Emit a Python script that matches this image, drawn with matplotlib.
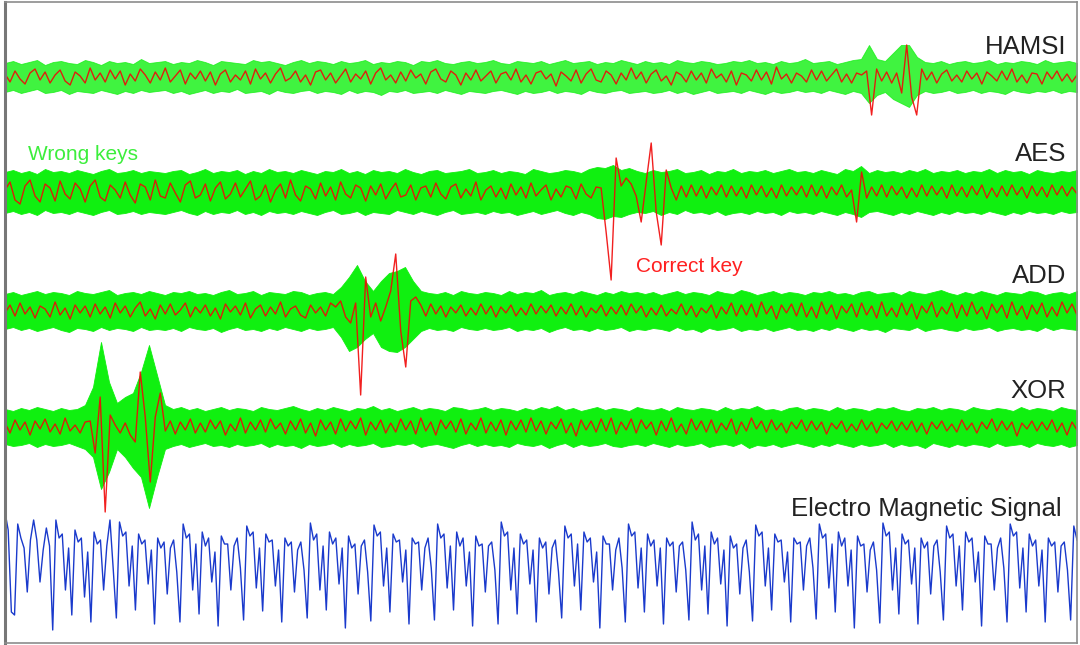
import numpy as np
import matplotlib
matplotlib.use('Agg')
import matplotlib.pyplot as plt

# ---------------- data ----------------
# red = correct key trace, up/dn = upper / lower edge of the green band
# of wrong key traces (all in px of amplitude, positive = up)

hamsi_red = [
    3, -5, 6, -2, -7, 4, 8, -3, 5, -6, 2, 7, -4, -8, 5, 1, -6, 9, -3, 4,
    -5, 7, -2, 6, -8, 3, -4, 8, 2, -6, 5, -3, 9, -5, 1, 7, -7, 4, -2, 6,
    -4, 5, -8, 3, 7, -5, 2, -3, 6, -7, 8, -2, 4, -6, 3, 9, -4, -1, 6, -5,
    2, -8, 5, 7, -3, 4, -6, 1, 8, -5, 3, -2, 6, -7, 4, 9, -3, 2, -6, 5,
    -4, 7, -1, 3, -7, 5, 8, -2, -5, 6, 2, -8, 4, -3, 7, -4, 1, 6, -6, 3,
    5, -3, 8, -5, 2, -7, 4, 6, -2, 3, -9, 5, 1, -4, 7, -6, 3, 8, -3, -5,
    6, 2, -7, 4, -3, 9, -2, 5, -6, 3, 7, -4, 1, -8, 5, 2, -5, 6, -3, 4,
    -6, 8, -1, 3, -5, 6, -8, 4, 2, -4, 7, -3, 5, -7, 10, -2, 3, -6, 4, 1,
    -5, 7, -3, 6, -4, 2, 8, -5, 3, -6, 4, 2, 6, -38, 8, -4, 5, -6, 4, -16,
    32, -20, -38, 8, -3, 5, -6, 3, 7, -4, 2, -5, 6, -2, 4, -7, 5, 1, -4, 6,
    -3, 8, -5, 2, -6, 4, 3, -7, 5, -2, 6, -4, 3, -5, 2]
hamsi_up = [
    14, 16, 13, 15, 17, 12, 15, 16, 14, 13, 17, 15, 12, 16, 14, 15, 13, 18, 14, 15,
    16, 13, 15, 14, 17, 15, 12, 16, 15, 14, 13, 17, 15, 16, 14, 12, 15, 17, 14, 16,
    15, 13, 16, 14, 15, 17, 13, 15, 14, 16, 15, 12, 16, 15, 17, 14, 13, 15, 16, 14,
    15, 17, 14, 13, 16, 15, 14, 16, 13, 15, 17, 14, 15, 16, 13, 15, 14, 17, 15, 13,
    16, 14, 15, 13, 17, 15, 14, 16, 15, 13, 14, 16, 15, 17, 14, 15, 13, 16, 14, 15,
    18, 14, 15, 16, 13, 15, 17, 18, 32, 18, 16, 24, 32, 32, 20, 15, 14, 16, 13, 15,
    16, 14, 15, 17, 13, 15, 14, 16, 15, 13, 17, 14, 15, 16, 14]
hamsi_dn = [
    15, 13, 16, 14, 12, 16, 15, 13, 17, 14, 15, 16, 13, 15, 17, 14, 16, 13, 15, 14,
    13, 16, 14, 17, 15, 13, 16, 14, 15, 12, 16, 15, 14, 17, 13, 15, 16, 14, 13, 16,
    14, 15, 17, 13, 16, 14, 15, 18, 14, 15, 13, 16, 15, 14, 16, 13, 15, 17, 14, 15,
    16, 14, 13, 15, 17, 14, 16, 15, 13, 16, 14, 15, 17, 13, 15, 16, 14, 13, 16, 15,
    14, 16, 15, 13, 16, 14, 17, 15, 13, 16, 15, 14, 16, 13, 15, 17, 14, 16, 15, 13,
    15, 14, 16, 13, 15, 17, 14, 16, 26, 18, 15, 22, 26, 30, 18, 14, 16, 15, 13, 16,
    15, 13, 16, 14, 15, 17, 13, 15, 16, 14, 15, 13, 16, 14, 15]

aes_red = [
    2, 10, -8, -12, 6, 12, -4, -10, 8, 4, -9, 11, -2, -7, 9, 3, -10, 6, 12, -5,
    -9, 7, 2, -6, 10, -3, -11, 8, 5, -8, 12, -4, -6, 9, -1, -10, 7, 11, -6, -3,
    8, -9, 4, 10, -7, -2, 9, -5, 3, 11, -8, -4, 7, -10, 2, 8, -6, 12, -3, -9,
    6, 3, -7, 9, -4, 5, -8, 10, -2, -6, 7, 4, -9, 6, -3, 8, -7, 2, 9, -5,
    -3, 7, -8, 4, 6, -5, 9, -2, -7, 5, 8, -6, 3, -4, 10, -8, 2, 6, -5, 4,
    -7, 8, -3, 5, -6, 9, -4, 2, 7, -8, 3, -5, 6, 4, -7, 8, -2, -6, 5, 4,
    -40, -88, 34, 6, 14, 8, -4, -30, 10, 49, -20, -53, 22, 4, -8, 6, -5, 7, -4, 6,
    -6, 5, -3, 7, -5, 6, -4, 5, -6, 7, -3, 6, -5, 4, -6, 7, -4, 5, -3, 6,
    -5, 7, -4, 6, -6, 5, -3, 7, -5, 2, -30, 20, -6, 5, -4, 7, -5, 6, -3, 5,
    -6, 4, -5, 7, -4, 6, -3, 5, -6, 7, -4, 5, -5, 6, -3, 7, -6, 4, -5, 6,
    -4, 7, -3, 5, -6, 6, -4, 5, -5, 7, -3, 6, -4, 5, -2]
aes_up = [
    20, 22, 19, 21, 18, 23, 20, 21, 19, 22, 20, 18, 21, 23, 19, 20, 22, 19, 21, 20,
    19, 21, 22, 18, 20, 23, 19, 21, 20, 22, 18, 21, 19, 23, 20, 21, 19, 22, 20, 18,
    21, 20, 23, 19, 21, 18, 22, 20, 21, 19, 23, 20, 18, 21, 22, 19, 20, 21, 23, 19,
    20, 22, 19, 21, 20, 18, 23, 21, 19, 20, 22, 21, 19, 23, 25, 24, 27, 22, 24, 21,
    19, 22, 20, 21, 23, 19, 20, 22, 18, 21, 20, 23, 19, 21, 20, 22, 19, 21, 23, 20,
    21, 19, 22, 20, 18, 23, 21, 26, 19, 22, 20, 21, 19, 22, 20, 23, 19, 21, 20, 22,
    19, 21, 20, 23, 19, 22, 20, 21, 18, 22, 20, 19, 21, 20, 22]
aes_dn = [
    21, 19, 22, 20, 23, 18, 21, 20, 22, 19, 21, 23, 20, 18, 22, 21, 19, 22, 20, 21,
    22, 20, 18, 21, 23, 19, 22, 20, 21, 18, 22, 20, 23, 19, 21, 20, 22, 19, 21, 23,
    20, 18, 22, 21, 19, 23, 20, 21, 22, 18, 20, 22, 19, 21, 23, 20, 18, 22, 21, 20,
    22, 19, 21, 20, 23, 21, 19, 22, 20, 18, 21, 23, 20, 22, 26, 27, 24, 25, 22, 20,
    21, 19, 23, 20, 22, 18, 21, 20, 22, 19, 23, 21, 20, 22, 19, 21, 20, 23, 19, 21,
    20, 22, 19, 21, 23, 20, 22, 25, 20, 19, 21, 23, 20, 22, 19, 21, 23, 20, 22, 19,
    21, 20, 22, 19, 21, 23, 20, 22, 19, 21, 20, 22, 19, 21, 20]

add_red = [
    -2, 6, -5, 8, -3, 4, -7, 5, 2, -6, 9, -4, 3, -8, 6, -2, 5, -6, 7, -3,
    4, -7, 8, -2, 5, -6, 3, 9, -5, 2, -8, 6, -3, 7, -4, 1, 8, -6, 4, -2,
    6, -5, 3, -8, 7, -1, 5, -4, 8, -7, 2, 6, -5, 4, -3, 9, -6, 2, 5, -4,
    -7, 6, -2, 4, -5, 8, 4, 10, -6, -12, 8, -84, 34, -6, 8, -10, 4, 20, 57, -20,
    -56, 10, 14, 6, -5, 7, -3, 5, -6, 4, -2, 6, -5, 3, -4, 7, -3, 5, -6, 4,
    -2, 6, -5, 3, -4, 7, -3, 5, -2, 6, -5, 4, -3, 7, -4, 5, -6, 3, -2, 6,
    -5, 4, -3, 6, -4, 7, -2, 5, -6, 3, -4, 6, -5, 2, -3, 7, -4, 5, -6, 3,
    -2, 6, -7, 4, -3, 8, -5, 6, -4, 7, -6, 9, -3, 5, -8, 6, -2, 7, -5, 8,
    -6, 4, -7, 9, -3, 6, -8, 5, -2, 7, -6, 8, -4, 5, -7, 9, -5, 3, -6, 8,
    -4, 7, -8, 5, -2, 9, -6, 4, -3, 8, -7, 6, -5, 9, -3, 4, -8, 7, -2, 6,
    -7, 9, -4, 5, -8, 6, -3, 8, -6, 4, -5, 9, -2, 7, -4]
add_up = [
    17, 19, 16, 18, 20, 17, 19, 18, 16, 20, 18, 17, 19, 21, 16, 18, 19, 17, 20, 18,
    16, 19, 18, 20, 17, 18, 16, 19, 21, 17, 18, 20, 16, 19, 18, 17, 20, 19, 16, 18,
    19, 17, 24, 34, 46, 30, 20, 30, 38, 40, 44, 30, 20, 18, 17, 19, 16, 20, 18, 17,
    19, 18, 16, 20, 17, 19, 18, 21, 16, 18, 19, 17, 20, 18, 16, 19, 17, 20, 18, 19,
    17, 19, 16, 18, 20, 17, 19, 18, 16, 20, 18, 17, 21, 19, 16, 18, 20, 17, 19, 18,
    16, 19, 18, 20, 17, 18, 16, 19, 20, 17, 18, 19, 16, 20, 18, 17, 19, 21, 18, 16,
    19, 17, 20, 18, 16, 19, 18, 17, 20, 19, 16, 18, 19, 17, 20]
add_dn = [
    18, 16, 19, 17, 20, 18, 16, 19, 21, 17, 18, 20, 16, 19, 17, 18, 20, 16, 19, 18,
    19, 17, 20, 16, 18, 19, 17, 21, 18, 16, 19, 18, 20, 17, 19, 16, 18, 20, 17, 19,
    18, 16, 26, 40, 36, 28, 22, 36, 40, 41, 36, 28, 20, 17, 19, 18, 20, 16, 18, 19,
    17, 19, 18, 16, 20, 18, 19, 17, 21, 18, 16, 19, 18, 20, 17, 19, 18, 16, 20, 18,
    19, 17, 18, 20, 16, 19, 18, 21, 17, 19, 18, 16, 20, 18, 19, 17, 20, 18, 16, 19,
    18, 20, 17, 19, 16, 18, 20, 17, 19, 18, 21, 17, 18, 19, 16, 20, 18, 17, 19, 20,
    17, 19, 18, 16, 20, 18, 17, 19, 18, 20, 16, 19, 17, 18, 19]

xor_red = [
    4, -6, 7, -3, 5, -8, 6, -2, 8, -5, 3, -7, 9, -4, 2, -6, 5, 6, -26, 30,
    -85, 12, 2, -6, 4, -8, -15, 55, 10, -55, 10, 34, -4, 6, -7, 5, -3, 8, -6, 4,
    -5, 7, -2, 6, -8, 3, -4, 9, -6, 5, -3, 7, -5, 8, -2, 4, -7, 6, -3, 8,
    -6, 4, -9, 7, -3, 5, -7, 8, -4, 6, -2, 9, -8, 5, -3, 7, -6, 4, -5, 8,
    -3, 6, -7, 9, -4, 5, -8, 7, -2, 6, -5, 8, -7, 4, -3, 9, -6, 5, -4, 7,
    -8, 6, -3, 7, -5, 9, -4, 6, -7, 5, -2, 8, -6, 4, -9, 7, -3, 6, -5, 8,
    -4, 9, -7, 5, -3, 8, -6, 7, -2, 5, -8, 6, -4, 9, -5, 3, -7, 8, -3, 6,
    -5, 7, -6, 4, -3, 8, -7, 5, -4, 9, -2, 6, -5, 7, -3, 4, -6, 5, -2, 7,
    -4, 6, -3, 5, -7, 4, -2, 6, -5, 3, -4, 7, -3, 5, -6, 4, -2, 6, -4, 5,
    -3, 6, -5, 4, -7, 5, -2, 6, -4, 3, -5, 7, -3, 4, -6, 5, -2, 8, -4, 6,
    -3, 5, -9, 4, -2, 6, -4, 5, -3, 7, -5, 4, -8, 5, -3]
xor_up = [
    18, 16, 19, 17, 20, 18, 16, 19, 17, 18, 22, 40, 85, 45, 24, 30, 34, 55, 82, 52,
    22, 18, 20, 17, 19, 16, 18, 20, 17, 19, 18, 16, 20, 18, 17, 19, 21, 18, 16, 19,
    17, 20, 18, 16, 19, 18, 21, 17, 19, 16, 18, 20, 17, 19, 18, 16, 20, 19, 17, 18,
    20, 17, 19, 18, 16, 19, 17, 20, 18, 21, 17, 19, 16, 18, 20, 17, 19, 18, 16, 20,
    18, 17, 19, 16, 20, 18, 17, 19, 18, 16, 20, 17, 19, 18, 21, 17, 18, 16, 19, 20,
    17, 19, 18, 16, 20, 17, 19, 18, 16, 19, 18, 20, 17, 16, 19, 18, 20, 17, 19, 18,
    16, 20, 18, 17, 19, 18, 16, 20, 17, 19, 18, 16, 20, 18, 17]
xor_dn = [
    17, 19, 18, 16, 20, 17, 19, 18, 16, 19, 22, 30, 62, 45, 22, 30, 41, 50, 81, 50,
    22, 19, 17, 20, 18, 16, 19, 18, 20, 17, 19, 18, 16, 20, 17, 19, 18, 21, 17, 19,
    18, 16, 20, 17, 19, 18, 16, 20, 19, 17, 18, 16, 20, 18, 17, 19, 21, 18, 16, 19,
    17, 19, 18, 20, 16, 18, 19, 17, 21, 18, 16, 20, 17, 19, 18, 16, 19, 20, 18, 17,
    19, 16, 18, 20, 17, 19, 18, 16, 20, 18, 17, 19, 16, 21, 18, 19, 17, 20, 18, 16,
    18, 20, 17, 19, 16, 18, 20, 17, 19, 18, 16, 20, 17, 19, 18, 21, 16, 18, 20, 17,
    19, 17, 18, 20, 16, 19, 18, 17, 20, 16, 18, 19, 17, 20, 18]

# electro magnetic signal, one row per repeating pattern
em_signal = [
    48, 30, -52, -55, 36, 22, 12, -32, 20, 40, 20, -22, 10, 32, 14,
    -70, 40, 22, 26, -30, 12, -55, 30, 18, 22, -37, 8, -62, 28, 16, 20, -30, 14, 40, -8,
    -58, 38, 24, 28, -26, 14, -50, 26, 16, 20, -24, 10, -64, 22, 12, 18, -34, 12, 20, -12,
    -62, 36, 22, 26, -30, 16, -54, 28, 14, 22, -22, 8, -66, 24, 16, 16, -30, 14, 22, -8,
    -60, 34, 24, 28, -28, 12, -51, 26, 18, 20, -26, 10, -62, 22, 14, 18, -32, 10, 18, -10,
    -58, 37, 20, 26, -30, 14, -50, 28, 16, 22, -24, 12, -68, 24, 12, 16, -34, 14, 20, -12,
    -61, 35, 24, 28, -26, 12, -52, 26, 18, 20, -22, 10, -64, 22, 16, 18, -30, 12, 22, -8,
    -60, 36, 22, 26, -28, 14, -50, 28, 14, 22, -26, 8, -66, 24, 14, 16, -32, 14, 18, -10,
    -64, 38, 24, 28, -30, 12, -54, 26, 16, 20, -24, 10, -62, 22, 12, 18, -34, 12, 20, -12,
    -58, 34, 22, 26, -26, 16, -50, 28, 18, 22, -22, 8, -68, 24, 16, 16, -30, 10, 22, -8,
    -62, 36, 24, 28, -28, 12, -52, 26, 14, 20, -26, 12, -64, 22, 14, 18, -32, 14, 18, -10,
    -60, 38, 20, 26, -30, 14, -54, 28, 16, 22, -24, 10, -66, 24, 12, 16, -34, 12, 20, -12,
    -61, 35, 24, 28, -26, 12, -50, 26, 18, 20, -22, 8, -62, 22, 16, 18, -30, 14, 22, -8,
    -59, 36, 22, 26, -28, 16, -52, 28, 14, 22, -26, 10, -68, 24, 14, 16, -32, 10, 18, -10,
    -63, 37, 24, 28, -30, 12, -54, 26, 16, 20, -24, 12, -64, 22, 12, 18, -34, 14, 20, -12,
    -60, 34, 22, 26, -26, 14, -50, 28, 18, 22, -22, 8, -66, 24, 16, 16, -30, 12, 22, -8,
    -62, 36, 24, 28, -28, 12, -52, 26, 14, 20, -26, 10, -62, 22, 14, 18, -32, 14, 18, -10,
    -60, 34, 20]

labels = ['HAMSI', 'AES', 'ADD', 'XOR']

# ---------------- layout ----------------
W, H = 1080, 645
row_center = [77, 192, 311, 427]      # px from top
label_base = [54, 161, 283, 398]      # text baselines, px from top
em_center = 560
GREEN = '#10f010'
RED = '#f00808'
BLUE = '#1a3acc'

fig = plt.figure(figsize=(W / 100, H / 100), dpi=100)
ax = fig.add_axes([5 / W, 2 / H, 1072 / W, 641 / H])
ax.set_xlim(0, 1)
ax.set_ylim(643, 2)
ax.set_xticks([])
ax.set_yticks([])
for s in ax.spines.values():
    s.set_color('#8c8c8c')
    s.set_linewidth(1.2)
ax.spines['left'].set_linewidth(2.2)
ax.spines['left'].set_color('#777777')

traces = [(hamsi_red, hamsi_up, hamsi_dn),
          (aes_red, aes_up, aes_dn),
          (add_red, add_up, add_dn),
          (xor_red, xor_up, xor_dn)]

for k, (red, up, dn) in enumerate(traces):
    c = row_center[k]
    xe = np.linspace(0, 1, len(up))
    alpha = 0.8 if k == 0 else 1.0
    ax.fill_between(xe, c - np.array(up), c + np.array(dn), color=GREEN,
                    lw=0.6, edgecolor=GREEN, alpha=alpha)
    xr = np.linspace(0, 1, len(red))
    ax.plot(xr, c - np.array(red), color=RED, lw=1.0, alpha=0.9)

xb = np.linspace(0, 1, len(em_signal))
ax.plot(xb, em_center - np.array(em_signal), color=BLUE, lw=1.0)

# ---------------- texts ----------------
font = ['Liberation Sans', 'DejaVu Sans']
for k, name in enumerate(labels):
    fig.text(1066 / W, 1 - label_base[k] / H, name, ha='right', va='baseline',
             fontsize=18.5, color='#222222', family=font)
fig.text(1062 / W, 1 - 516 / H, 'Electro Magnetic Signal', ha='right',
         va='baseline', fontsize=18.5, color='#222222', family=font)
fig.text(28 / W, 1 - 160 / H, 'Wrong keys', ha='left', va='baseline',
         fontsize=15, color='#3cee3c', family=font)
fig.text(636 / W, 1 - 272 / H, 'Correct key', ha='left', va='baseline',
         fontsize=15, color='#ff2020', family=font)

fig.savefig('out.png', dpi=100)
